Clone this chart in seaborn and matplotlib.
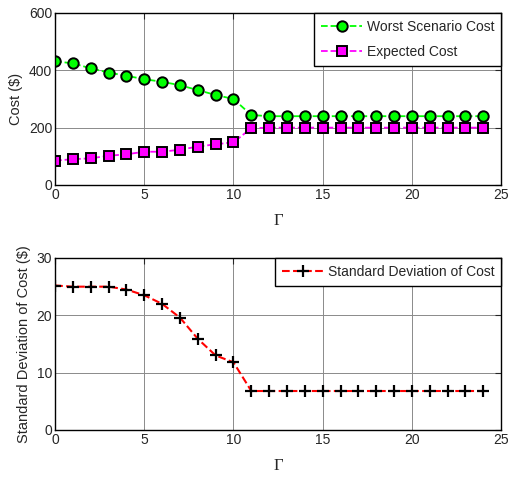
import matplotlib
matplotlib.use("Agg")
import matplotlib.pyplot as plt
import seaborn as sns
import numpy as np
import pandas as pd

gamma = list(range(0, 25))
worst_cost = [432, 424, 407, 392, 381, 369, 360, 348, 331, 314, 300, 244,
              240, 240, 240, 240, 240, 240, 240, 240, 240, 240, 240, 240, 240]
expected_cost = [85, 90, 93, 102, 107, 116, 116, 123, 134, 142, 149, 198,
                 200, 200, 200, 200, 200, 200, 200, 200, 200, 200, 200, 200, 200]
std_cost = [25.2, 25.0, 25.0, 25.0, 24.5, 23.5, 22.0, 19.6, 15.9, 13.0, 11.8, 6.8,
            6.8, 6.8, 6.8, 6.8, 6.8, 6.8, 6.8, 6.8, 6.8, 6.8, 6.8, 6.8, 6.8]
xticks = [0, 5, 10, 15, 20, 25]
yticks_top = [0, 200, 400, 600]
yticks_bot = [0, 10, 20, 30]

sns.set_style("white")
plt.rcParams['font.family'] = ['Liberation Sans', 'DejaVu Sans']
plt.rcParams['xtick.direction'] = 'in'
plt.rcParams['ytick.direction'] = 'in'

fig = plt.figure(figsize=(5.10, 4.79), dpi=100)
ax1 = fig.add_axes([0.108, 0.6138, 0.8745, 0.3591])
ax2 = fig.add_axes([0.108, 0.1023, 0.8745, 0.3591])

df = pd.DataFrame({"g": gamma, "w": worst_cost, "e": expected_cost, "s": std_cost})

sns.lineplot(data=df, x="g", y="w", ax=ax1, color="#00ff00", linestyle="--", lw=1.3,
             marker="o", markersize=7.5, markerfacecolor="#00ff00", markeredgecolor="black",
             markeredgewidth=1.4, label="Worst Scenario Cost")
sns.lineplot(data=df, x="g", y="e", ax=ax1, color="#ff00ff", linestyle="--", lw=1.3,
             marker="s", markersize=7, markerfacecolor="#ff00ff", markeredgecolor="black",
             markeredgewidth=1.4, label="Expected Cost")
sns.lineplot(data=df, x="g", y="s", ax=ax2, color="#ff0000", linestyle="--", lw=1.5,
             marker="+", markersize=9, markeredgecolor="black",
             markeredgewidth=1.6, label="Standard Deviation of Cost")

for ax, yt, yl in [(ax1, yticks_top, "Cost ($)"), (ax2, yticks_bot, "Standard Deviation of Cost ($)")]:
    ax.set_xlim(0, 25)
    ax.set_ylim(yt[0], yt[-1])
    ax.set_xticks(xticks)
    ax.set_yticks(yt)
    ax.grid(True, color="#8a8a8a", lw=0.7)
    ax.tick_params(labelsize=10, length=4, width=0.8, pad=2, top=True, right=True)
    for s in ax.spines.values():
        s.set_color("black")
        s.set_linewidth(1.0)
    ax.set_xlabel("Γ", family=["Liberation Serif", "DejaVu Serif"], fontsize=12, labelpad=8)
    ax.set_ylabel(yl, fontsize=10.5, labelpad=4)
    leg = ax.legend(loc="upper right", borderaxespad=0, fancybox=False, framealpha=1,
                    edgecolor="black", fontsize=10, handlelength=3, handletextpad=0.3,
                    borderpad=0.5, labelspacing=0.8)
    leg.get_frame().set_linewidth(1.0)

fig.savefig("out.png", dpi=100)
